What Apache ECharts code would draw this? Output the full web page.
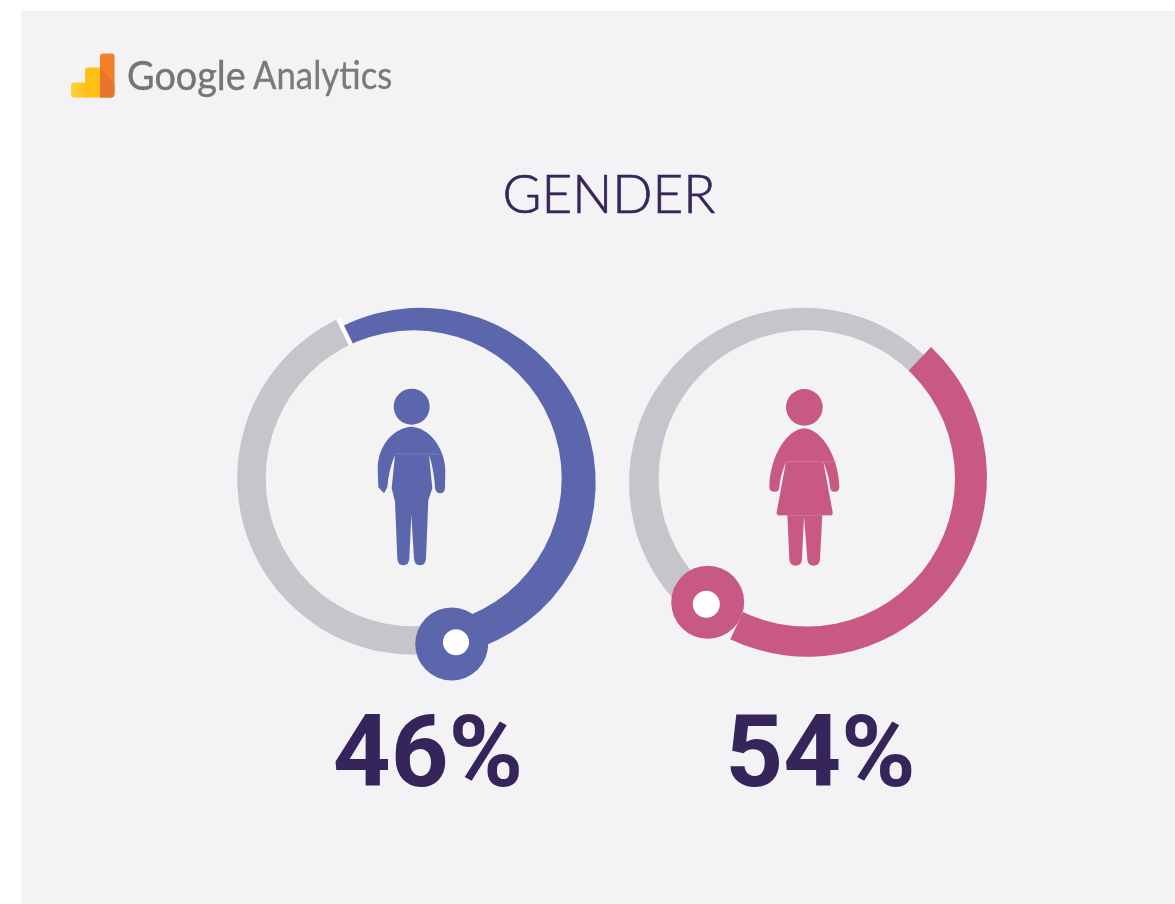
<!DOCTYPE html>
<html>
<head>
<meta charset="utf-8">
<style>html,body{margin:0;padding:0;background:#fff}#c{width:1175px;height:904px}</style>
<script src="https://cdn.jsdelivr.net/npm/echarts@6/dist/echarts.min.js"></script>
</head>
<body>
<div id="c"></div>
<script>
const chartTitle = 'GENDER';
const genders = ['Male', 'Female'];
const shareLabels = ['46%', '54%'];
const arcShares = [54, 45];
const trackShares = [46, 54];
const arcColors = ['#5c66ac', '#c85884'];
const trackColor = '#c5c6cb';
const discColor = '#f3f3f4';
const panelColor = '#f3f3f6';
const inkColor = '#36255a';
const logoWords = ['Google', 'Analytics'];

const manBody = 'M155 140 C105 143 55 190 53 265 L55 322 L72 340 L82 322 C84 290 92 255 105 225 L95 325 L105 365 L112 535 Q113 556 130 556 Q147 556 148 535 L154 405 L162 535 Q163 556 180 556 Q197 556 198 535 L205 360 L217 325 L207 225 C218 255 224 295 225 325 Q228 340 240 340 Q255 340 255 322 L256 270 C254 200 205 143 155 140 Z';
const womanBody = 'M163 145 C110 148 60 230 58 320 Q58 335 73 335 Q88 335 88 320 C90 295 98 270 108 245 L80 397 Q79 406 88 406 L112 406 L118 538 Q119 557 137 557 Q155 557 156 538 L162 408 L172 538 Q173 557 191 557 Q209 557 210 538 L217 406 L241 406 Q249 406 248 397 L220 245 C230 270 238 295 240 320 Q240 335 254 335 Q268 335 268 320 C266 230 215 148 163 145 Z';

function ring(center, radius, startAngle, values, colors, z) {
  return {
    type: 'pie', silent: true, animation: false, z: z,
    center: center, radius: radius, startAngle: startAngle, clockwise: true,
    label: {show: false}, labelLine: {show: false},
    data: values.map((v, i) => ({value: v, itemStyle: {color: colors[i]}}))
  };
}
function person(x, y, pathData, head, seams, color, seamColor) {
  const children = [
    {type: 'circle', shape: {cx: head[0], cy: head[1], r: head[2]}, style: {fill: color}},
    {type: 'path', shape: {pathData: pathData}, style: {fill: color}}
  ];
  seams.forEach(s => children.push({type: 'line', shape: {x1: s[0], y1: s[1], x2: s[2], y2: s[1]}, style: {stroke: seamColor, lineWidth: 1.5}}));
  return {type: 'group', x: x, y: y, scaleX: 1 / 3, scaleY: 1 / 3, children: children};
}
const icons = {
  type: 'custom', coordinateSystem: 'none', silent: true, animation: false, z: 6,
  data: genders.map((g, i) => i),
  renderItem: function (params) {
    return params.dataIndex === 0
      ? person(360, 380, manBody, [155, 80, 54], [[105, 222, 248]], arcColors[0], '#9296c6')
      : person(750, 380, womanBody, [163, 82, 55], [[108, 245, 260], [80, 406, 248]], arcColors[1], '#dc8fae');
  }
};
const series = [
  ring([413.7, 478.3], [100, 176.5], -78.4, [trackShares[0], 0.4, 100 - trackShares[0] - 0.4], [trackColor, '#ffffff', 'transparent'], 2),
  ring([420.7, 482.7], [100, 175], 116, [arcShares[0], 100 - arcShares[0]], [arcColors[0], 'transparent'], 3),
  ring([413.7, 478.3], [0, 148], 90, [1], [discColor], 4),
  ring([804, 482.7], [100, 175], -120.6, [trackShares[1], 100 - trackShares[1]], [trackColor, 'transparent'], 2),
  ring([807.5, 477.2], [100, 179.5], 46.5, [arcShares[1], 100 - arcShares[1]], [arcColors[1], 'transparent'], 3),
  ring([806.8, 478.3], [0, 148.2], 90, [1], [discColor], 4),
  icons
];

function knob(cx, cy, hx, hy, hr, color) {
  return [
    {type: 'circle', z: 20, silent: true, shape: {cx: cx, cy: cy, r: 36.5}, style: {fill: color}},
    {type: 'circle', z: 21, silent: true, shape: {cx: hx, cy: hy, r: hr}, style: {fill: '#ffffff'}}
  ];
}
const logoGrad = {type: 'linear', x: 0, y: 0, x2: 1, y2: 0, colorStops: [{offset: 0, color: '#ffd23a'}, {offset: 1, color: '#fdbd12'}]};
const graphic = [
  {type: 'rect', z: -10, silent: true, shape: {x: 21, y: 11, width: 1154, height: 893}, style: {fill: panelColor}},
  {type: 'rect', z: 20, silent: true, shape: {x: 71, y: 82.5, width: 18, height: 15, r: [3, 0, 0, 3]}, style: {fill: logoGrad}},
  {type: 'rect', z: 20, silent: true, shape: {x: 85, y: 67.5, width: 15.5, height: 30, r: [3, 0, 0, 0]}, style: {fill: '#fdc116'}},
  {type: 'rect', z: 21, silent: true, shape: {x: 100, y: 53.5, width: 14.5, height: 44, r: [3, 3, 3, 0]}, style: {fill: '#f37f26'}},
  {type: 'polygon', z: 22, silent: true, shape: {points: [[100, 68], [114.5, 84], [114.5, 94], [111.5, 97.5], [100, 97.5]]}, style: {fill: '#e9742b'}},
  {type: 'text', z: 20, silent: true, x: 127, y: 57, scaleX: 0.945, style: {text: logoWords[0], font: '400 40px Lato', fill: '#757575', stroke: '#757575', lineWidth: 0.4}},
  {type: 'text', z: 20, silent: true, x: 253, y: 58, scaleX: 0.915, style: {text: logoWords[1], font: '400 38px Lato', fill: '#7a7a7a', stroke: '#7a7a7a', lineWidth: 0.3}},
  ...knob(451.7, 644, 456, 642.3, 13, arcColors[0]),
  ...knob(707.7, 602.3, 706.3, 604.3, 13.5, arcColors[1])
];
const option = {
  backgroundColor: '#ffffff',
  animation: false,
  title: [
    {text: chartTitle, left: 604, top: 164, textAlign: 'center', textStyle: {fontFamily: 'Lato', fontWeight: 300, fontSize: 53, color: inkColor, textBorderColor: inkColor, textBorderWidth: 0.7}},
    {text: shareLabels[0], left: 423, top: 705, textAlign: 'center', textStyle: {fontFamily: 'Roboto', fontWeight: 700, fontSize: 101, color: inkColor}},
    {text: shareLabels[1], left: 815.5, top: 705, textAlign: 'center', textStyle: {fontFamily: 'Roboto', fontWeight: 700, fontSize: 101, color: inkColor}}
  ],
  series: series,
  graphic: {elements: graphic}
};
echarts.init(document.getElementById('c'), null, {renderer: 'canvas'}).setOption(option);
</script>
</body>
</html>
